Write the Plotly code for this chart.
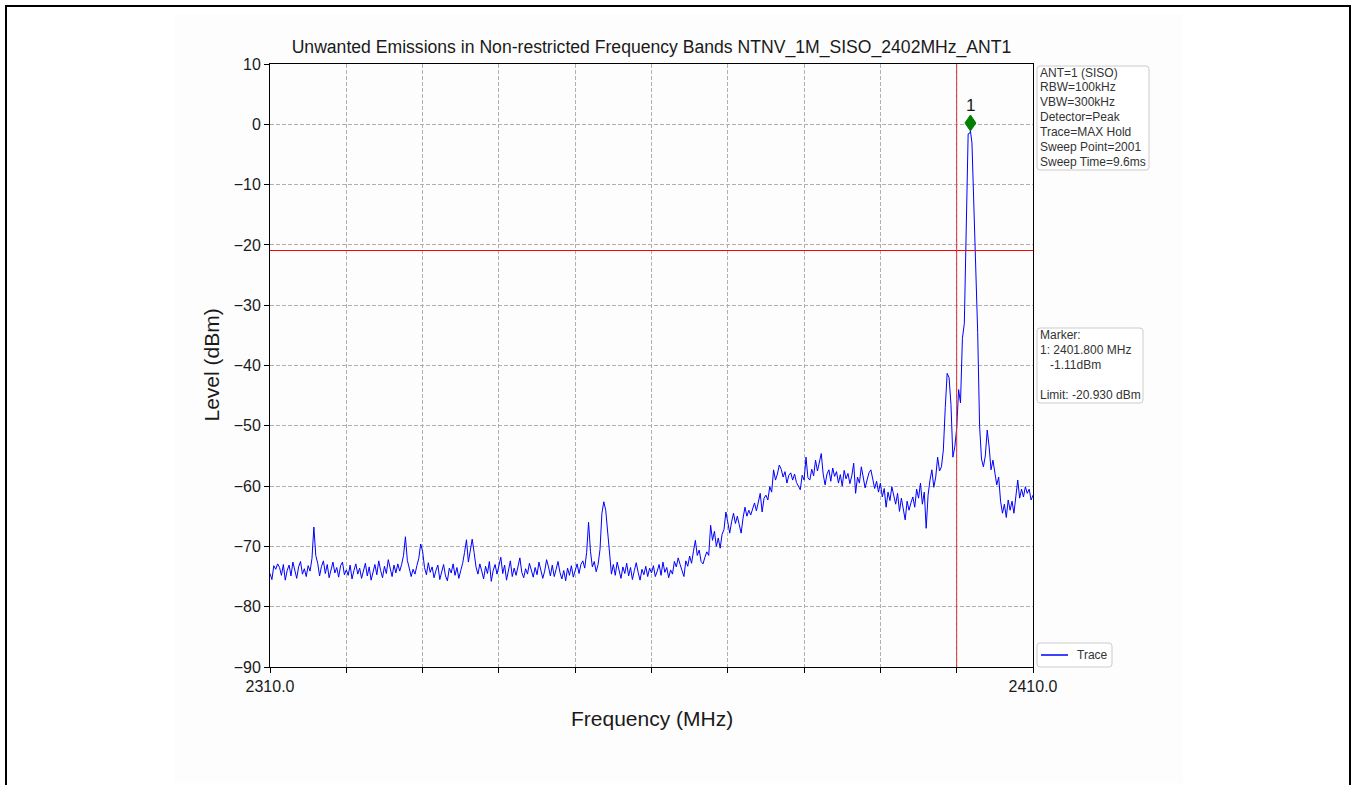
import numpy as np
import plotly.graph_objects as go

# Measured trace levels (dBm), 0.25 MHz steps, one list per 10 MHz span
lvl_2310 = [
    -74.5, -75.5, -73.2, -73.8, -72.9, -73.5, -74.8, -73.0, -75.6, -74.0,
    -73.1, -74.9, -72.6, -74.2, -75.3, -73.4, -72.5, -74.6, -73.7, -75.0,
    -73.2, -74.1, -72.0, -66.8, -71.5, -72.8, -74.9, -73.3, -72.4, -74.5,
    -73.0, -75.2, -73.8, -72.6, -74.4, -73.5, -75.1, -73.2, -72.6, -74.7,
]
lvl_2320 = [
    -73.9, -74.8, -73.1, -75.4, -74.0, -72.9, -74.6, -73.6, -75.3, -74.1,
    -72.8, -74.9, -73.4, -75.6, -74.2, -73.0, -74.7, -72.4, -74.0, -75.2,
    -73.3, -74.5, -72.2, -73.9, -75.0, -73.1, -74.4, -72.9, -74.1, -73.0,
    -71.5, -68.4, -72.3, -73.6, -75.0, -73.8, -74.6, -73.2, -72.0, -69.6,
]
lvl_2330 = [
    -70.8, -73.5, -74.7, -72.7, -74.3, -73.4, -75.2, -74.0, -73.1, -75.5,
    -74.2, -73.0, -74.9, -75.7, -73.6, -74.4, -72.9, -74.8, -73.5, -75.3,
    -74.0, -72.8, -71.0, -68.9, -72.6, -70.5, -68.8, -71.0, -73.4, -74.6,
    -72.9, -74.1, -75.4, -73.3, -74.5, -72.5, -75.8, -74.0, -73.0, -74.6,
]
lvl_2340 = [
    -73.2, -71.8, -74.5, -73.1, -75.6, -74.2, -72.4, -75.0, -73.6, -74.8,
    -73.0, -71.9, -74.3, -75.2, -73.7, -74.6, -72.8, -74.0, -75.1, -73.5,
    -74.7, -72.6, -73.9, -75.3, -74.1, -72.2, -73.4, -74.9, -73.1, -75.0,
    -73.8, -72.5, -74.3, -75.4, -74.0, -75.7, -73.6, -74.8, -73.2, -75.1,
]
lvl_2350 = [
    -74.0, -72.9, -74.5, -73.0, -72.4, -73.6, -71.0, -66.0, -70.8, -73.4,
    -72.5, -74.2, -73.0, -70.5, -64.5, -62.6, -64.0, -67.5, -72.0, -74.6,
    -73.0, -74.8, -72.6, -74.1, -75.3, -73.4, -74.5, -72.8, -74.9, -73.5,
    -75.5, -74.0, -72.7, -74.3, -75.6, -73.8, -74.7, -73.3, -75.0, -73.6,
]
lvl_2360 = [
    -74.4, -73.2, -75.0, -74.1, -73.0, -74.8, -72.6, -74.3, -73.5, -75.2,
    -73.9, -74.6, -72.5, -73.4, -71.9, -73.0, -74.1, -75.0, -72.4, -73.3,
    -71.6, -72.8, -70.8, -69.0, -71.5, -70.6, -72.5, -72.9, -71.8, -70.9,
    -71.5, -66.5, -69.0, -67.5, -70.0, -68.6, -70.3, -68.0, -67.2, -64.3,
]
lvl_2370 = [
    -66.0, -67.8, -65.9, -64.5, -66.2, -65.0, -66.4, -67.8, -65.3, -63.5,
    -65.0, -64.0, -64.8, -63.6, -62.8, -64.1, -62.5, -61.2, -64.3, -62.0,
    -61.5, -62.3, -60.1, -61.0, -57.3, -59.0, -58.0, -56.5, -57.2, -58.5,
    -57.6, -59.5, -58.2, -57.8, -59.0, -58.0, -59.4, -60.0, -60.6, -58.2,
]
lvl_2380 = [
    -59.0, -55.2, -58.6, -59.0, -57.2, -58.3, -55.7, -57.5, -56.0, -54.6,
    -58.0, -59.8, -58.0, -57.3, -59.2, -57.0, -58.4, -57.6, -59.5, -58.1,
    -60.0, -57.4, -58.8, -57.9, -59.6, -58.3, -56.2, -61.2, -58.5, -59.5,
    -56.8, -58.7, -60.3, -59.0, -57.8, -57.3, -58.9, -60.4, -59.2, -61.0,
]
lvl_2390 = [
    -59.5, -61.8, -60.4, -63.5, -61.0, -62.4, -60.1, -61.5, -63.0, -61.2,
    -64.2, -62.0, -63.8, -65.6, -62.5, -64.0, -62.8, -61.8, -63.5, -60.5,
    -62.0, -59.5, -63.0, -61.0, -67.0, -61.5, -59.0, -57.3, -60.2, -58.5,
    -55.2, -57.5, -56.8, -54.0, -47.0, -41.3, -42.0, -46.5, -55.2, -53.5,
]
lvl_2400 = [
    -50.4, -44.0, -46.2, -35.5, -33.0, -15.4, -1.6, -1.4, -3.1, -12.0,
    -24.0, -34.5, -50.0, -55.5, -56.8, -55.0, -50.7, -53.5, -57.3, -55.7,
    -57.5, -59.8, -58.5, -62.5, -64.5, -63.0, -65.2, -62.3, -64.0, -62.5,
    -64.5, -62.0, -59.0, -62.0, -60.5, -61.8, -60.1, -61.2, -60.5, -62.3,
    -61.5,
]

start_mhz = 2310.0
step_mhz = 0.25
stop_mhz = 2410.0

# Marker 1 and limit
marker_freq = 2401.8
marker_level = -1.11
limit_level = -20.930
band_edge = 2400.0

x_tick_vals = [2310, 2320, 2330, 2340, 2350, 2360, 2370, 2380, 2390, 2400, 2410]
x_tick_text = ["2310.0", "", "", "", "", "", "", "", "", "", "2410.0"]
y_tick_vals = [10, 0, -10, -20, -30, -40, -50, -60, -70, -80, -90]

settings_lines = [
    "ANT=1 (SISO)", "RBW=100kHz", "VBW=300kHz", "Detector=Peak",
    "Trace=MAX Hold", "Sweep Point=2001", "Sweep Time=9.6ms",
]
marker_lines = [
    "Marker:",
    "1: %.3f MHz" % marker_freq,
    "\u00a0\u00a0\u00a0%.2fdBm" % marker_level,
    "",
    "Limit: %.3f dBm" % limit_level,
]
trace_name = "Trace"

levels = np.concatenate([lvl_2310, lvl_2320, lvl_2330, lvl_2340, lvl_2350,
                         lvl_2360, lvl_2370, lvl_2380, lvl_2390, lvl_2400])
freqs = np.round(start_mhz + step_mhz * np.arange(len(levels)), 3)
# the marker sample belongs to the trace itself
freqs = np.append(freqs, marker_freq)
levels = np.append(levels, marker_level)
order = np.argsort(freqs)
freqs, levels = freqs[order], levels[order]

FONT = "Liberation Sans, Arial, sans-serif"
TXT = "#1a1a1a"
BOX_TXT = "#333333"
BOX_EDGE = "#cccccc"
TRACE_BLUE = "#0000ff"

# plot area in pixels
L, R, T, B = 270, 1033, 64, 667
W, H = 1354, 785
pw, ph = R - L, B - T


def px_x(px):
    return (px - L) / pw


def px_y(py):
    return (B - py) / ph


def rounded_box(left, top, right, bottom, rad=3):
    """Rounded rectangle given in screen pixels, anchored at the plot's top-right corner."""
    def X(v):
        return v - R

    def Y(v):
        return T - v

    p = [
        f"M {X(left + rad)},{Y(top)}",
        f"L {X(right - rad)},{Y(top)}",
        f"Q {X(right)},{Y(top)} {X(right)},{Y(top + rad)}",
        f"L {X(right)},{Y(bottom - rad)}",
        f"Q {X(right)},{Y(bottom)} {X(right - rad)},{Y(bottom)}",
        f"L {X(left + rad)},{Y(bottom)}",
        f"Q {X(left)},{Y(bottom)} {X(left)},{Y(bottom - rad)}",
        f"L {X(left)},{Y(top + rad)}",
        f"Q {X(left)},{Y(top)} {X(left + rad)},{Y(top)}",
        "Z",
    ]
    return dict(type="path", xref="paper", yref="paper",
                xsizemode="pixel", ysizemode="pixel", xanchor=1, yanchor=1,
                path=" ".join(p), fillcolor="white",
                line=dict(color=BOX_EDGE, width=1), layer="above")


fig = go.Figure()
fig.add_trace(go.Scatter(
    x=freqs, y=levels, mode="lines", name=trace_name, showlegend=False,
    line=dict(color=TRACE_BLUE, width=1),
))

shapes = [
    # page frame and faint figure background
    dict(type="rect", xref="paper", yref="paper", layer="below",
         x0=px_x(174), x1=px_x(1183), y0=px_y(783), y1=px_y(14),
         fillcolor="#fdfdfd", line=dict(width=0)),
    dict(type="rect", xref="paper", yref="paper", layer="above",
         x0=px_x(6), x1=px_x(1350), y0=px_y(800), y1=px_y(6),
         fillcolor="rgba(0,0,0,0)", line=dict(color="#000000", width=2)),
    # limit line and band edge
    dict(type="line", xref="paper", yref="y", x0=0, x1=1,
         y0=limit_level, y1=limit_level, line=dict(color="#ff0000", width=1.2)),
    dict(type="line", xref="x", yref="paper", x0=band_edge, x1=band_edge,
         y0=0, y1=1, line=dict(color="#e03030", width=1)),
    # marker diamond sitting on the peak
    dict(type="path", xref="x", yref="y", xsizemode="pixel", ysizemode="pixel",
         xanchor=marker_freq, yanchor=marker_level,
         path="M 0,0 L 5.5,8 L 0,16 L -5.5,8 Z",
         fillcolor="#008000", line=dict(color="#008000", width=1)),
    # info boxes and legend frame
    rounded_box(1037, 66, 1149, 170),
    rounded_box(1037, 328, 1143, 403),
    rounded_box(1037, 643, 1112, 667),
    # legend line sample
    dict(type="line", xref="paper", yref="paper", layer="above",
         x0=px_x(1041), x1=px_x(1068), y0=px_y(655), y1=px_y(655),
         line=dict(color=TRACE_BLUE, width=1.5)),
]

annotations = [
    dict(text="1", x=marker_freq, y=marker_level, xref="x", yref="y",
         showarrow=False, yshift=25, font=dict(size=17, color=TXT, family=FONT)),
    dict(text="Level (dBm)", textangle=-90, xref="paper", yref="paper",
         x=px_x(211), y=0.5, xanchor="center", yanchor="middle", showarrow=False,
         font=dict(size=21, color=TXT, family=FONT)),
    dict(text="Frequency (MHz)", xref="paper", yref="paper",
         x=0.5, y=px_y(718), xanchor="center", yanchor="middle", showarrow=False,
         font=dict(size=21, color=TXT, family=FONT)),
    dict(text=trace_name, xref="paper", yref="paper", x=px_x(1075), y=px_y(655),
         xanchor="left", yanchor="middle", showarrow=False,
         font=dict(size=12, color=BOX_TXT, family=FONT)),
]

line_gap = 14.9
for i, s in enumerate(settings_lines):
    annotations.append(dict(
        text=s, xref="paper", yref="paper", x=px_x(1038), y=px_y(72.5 + i * line_gap),
        xanchor="left", yanchor="middle", showarrow=False,
        font=dict(size=12, color=BOX_TXT, family=FONT)))
for i, s in enumerate(marker_lines):
    if not s:
        continue
    annotations.append(dict(
        text=s, xref="paper", yref="paper", x=px_x(1038), y=px_y(335 + i * line_gap),
        xanchor="left", yanchor="middle", showarrow=False,
        font=dict(size=12, color=BOX_TXT, family=FONT)))

axis_common = dict(
    showline=True, mirror=True, linecolor="#000000", linewidth=1,
    ticks="outside", ticklen=5, tickwidth=1, tickcolor="#000000",
    showgrid=True, gridcolor="#b0b0b0", gridwidth=1, griddash="4px,2px",
    zeroline=False, tickfont=dict(size=16, color=TXT, family=FONT),
)

fig.update_layout(
    width=W, height=H,
    margin=dict(l=L, r=W - R, t=T, b=H - B),
    paper_bgcolor="white", plot_bgcolor="white",
    title=dict(
        text="Unwanted Emissions in Non-restricted Frequency Bands NTNV_1M_SISO_2402MHz_ANT1",
        xref="paper", x=0.5, xanchor="center",
        yref="container", y=1 - 47 / H, yanchor="middle",
        font=dict(size=17.6, color=TXT, family=FONT),
    ),
    xaxis=dict(range=[start_mhz, stop_mhz], tickmode="array",
               tickvals=x_tick_vals, ticktext=x_tick_text, **axis_common),
    yaxis=dict(range=[-90, 10], tickmode="array", tickvals=y_tick_vals,
               **axis_common),
    showlegend=False,
    shapes=shapes,
    annotations=annotations,
)

fig.write_html("out.html")
